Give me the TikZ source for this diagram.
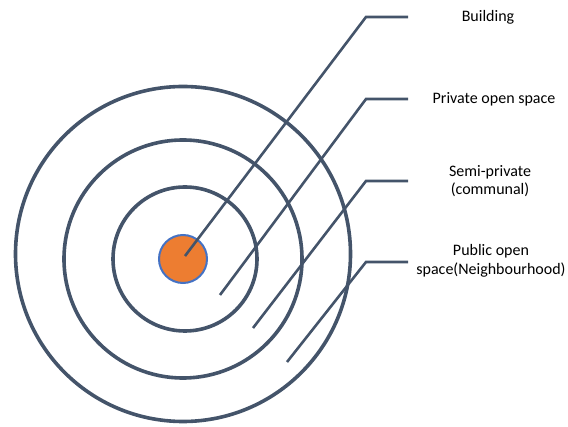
\documentclass[tikz,border=0pt]{standalone}
\usepackage{fontspec}
\setmainfont{Carlito}
\definecolor{ringline}{HTML}{44546A}
\definecolor{buildfill}{HTML}{ED7D31}
\definecolor{buildedge}{HTML}{4472C4}
\tikzset{
  ring/.style={circle, draw=ringline, line width=3.6pt, inner sep=0pt},
  leader/.style={draw=ringline, line width=2.6pt},
  label/.style={align=center, font=\fontsize{16}{18.5}\selectfont, text=black}
}
\begin{document}
\begin{tikzpicture}[x=1pt,y=-1pt]
\useasboundingbox (0,0) rectangle (568,427);

% Rings
\node[ring, minimum size=335pt] (outer) at (183,254) {};
\node[ring, minimum size=238pt] (middle) at (183,259) {};
\node[ring, minimum size=144pt] (inner) at (185,259) {};
\node[circle, fill=buildfill, draw=buildedge, line width=2pt, minimum size=48pt, inner sep=0pt] (building) at (183,259) {};

% Leader points
\coordinate (p1) at (185,256);
\coordinate (p2) at (220,295);
\coordinate (p3) at (253,328);
\coordinate (p4) at (287,362);
\coordinate (k1) at (366,17);
\coordinate (k2) at (366,99);
\coordinate (k3) at (366,181);
\coordinate (k4) at (366,262);
\coordinate (e1) at (408,17);
\coordinate (e2) at (408,99);
\coordinate (e3) at (408,181);
\coordinate (e4) at (408,262);

% Labels
\node[label] (lbuild) at (488,17) {Building};
\node[label] (lprivate) at (494,99) {Private open space};
\node[label] (lsemi) at (490,181) {Semi-private\\(communal)};
\node[label] (lpublic) at (491,261) {Public open\\space(Neighbourhood)};

% Leaders
\draw[leader] (p1) -- (k1) -- (e1);
\draw[leader] (p2) -- (k2) -- (e2);
\draw[leader] (p3) -- (k3) -- (e3);
\draw[leader] (p4) -- (k4) -- (e4);

\end{tikzpicture}
\end{document}
